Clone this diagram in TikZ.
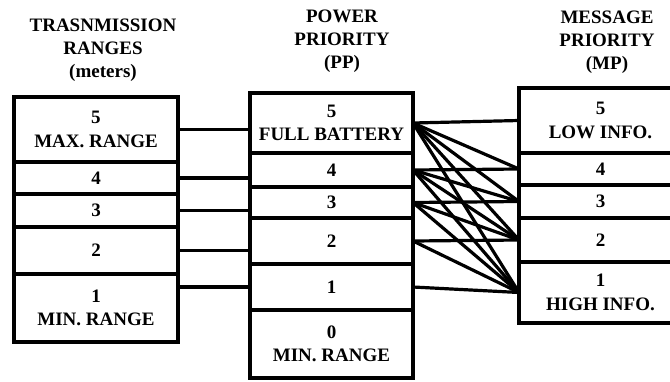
\documentclass[tikz,border=0pt]{standalone}
\usepackage{fontspec}
\setmainfont{Liberation Serif}
\begin{document}
\begin{tikzpicture}[x=1pt,y=-1pt,
	box/.style={draw, line width=3.2pt, inner sep=0pt, outer sep=0pt, align=center,
		font=\fontsize{19}{23.5}\selectfont\bfseries},
	head/.style={align=center, font=\fontsize{19}{23}\selectfont\bfseries},
	link/.style={line width=3.2pt}]
	\clip (0,0) rectangle (670,381);
	% transmission ranges
	\node[head] (trhead) at (103,50) {TRASNMISSION\\RANGES\\(meters)};
	\node[box, minimum width=164pt, minimum height=65pt] (tr5) at (96,129.5) {5\\MAX. RANGE};
	\node[box, minimum width=164pt, minimum height=32pt] (tr4) at (96,178) {4};
	\node[box, minimum width=164pt, minimum height=33pt] (tr3) at (96,210.5) {3};
	\node[box, minimum width=164pt, minimum height=47pt] (tr2) at (96,250.5) {2};
	\node[box, minimum width=164pt, minimum height=68pt] (tr1) at (96,308) {1\\MIN. RANGE};
	% power priority
	\node[head] (pphead) at (342,41) {POWER\\PRIORITY\\(PP)};
	\node[box, minimum width=163pt, minimum height=60pt] (pp5) at (331.5,123) {5\\FULL BATTERY};
	\node[box, minimum width=163pt, minimum height=34pt] (pp4) at (331.5,170) {4};
	\node[box, minimum width=163pt, minimum height=31pt] (pp3) at (331.5,202.5) {3};
	\node[box, minimum width=163pt, minimum height=46pt] (pp2) at (331.5,241) {2};
	\node[box, minimum width=163pt, minimum height=46pt] (pp1) at (331.5,287) {1};
	\node[box, minimum width=163pt, minimum height=68pt] (pp0) at (331.5,344) {0\\MIN. RANGE};
	% message priority
	\node[head] (mphead) at (607,42) {MESSAGE\\PRIORITY\\(MP)};
	\node[box, minimum width=163pt, minimum height=65pt] (mp5) at (600.5,120.5) {5\\LOW INFO.};
	\node[box, minimum width=163pt, minimum height=32pt] (mp4) at (600.5,169) {4};
	\node[box, minimum width=163pt, minimum height=33pt] (mp3) at (600.5,201.5) {3};
	\node[box, minimum width=163pt, minimum height=44pt] (mp2) at (600.5,240) {2};
	\node[box, minimum width=163pt, minimum height=61pt] (mp1) at (600.5,292.5) {1\\HIGH INFO.};
	% ranges to power
	\foreach \i in {2,...,5}{
		\draw[link] (tr\i.east) -- (tr\i.east -| pp\i.west);
	}
	\draw[link] (pp1.west -| tr1.east) -- (pp1.west);
	% power to message
	\foreach \i in {1,...,5}{
		\foreach \j in {1,...,\i}{
			\draw[link] (pp\i.east) -- (mp\j.west);
		}
	}
\end{tikzpicture}
\end{document}
